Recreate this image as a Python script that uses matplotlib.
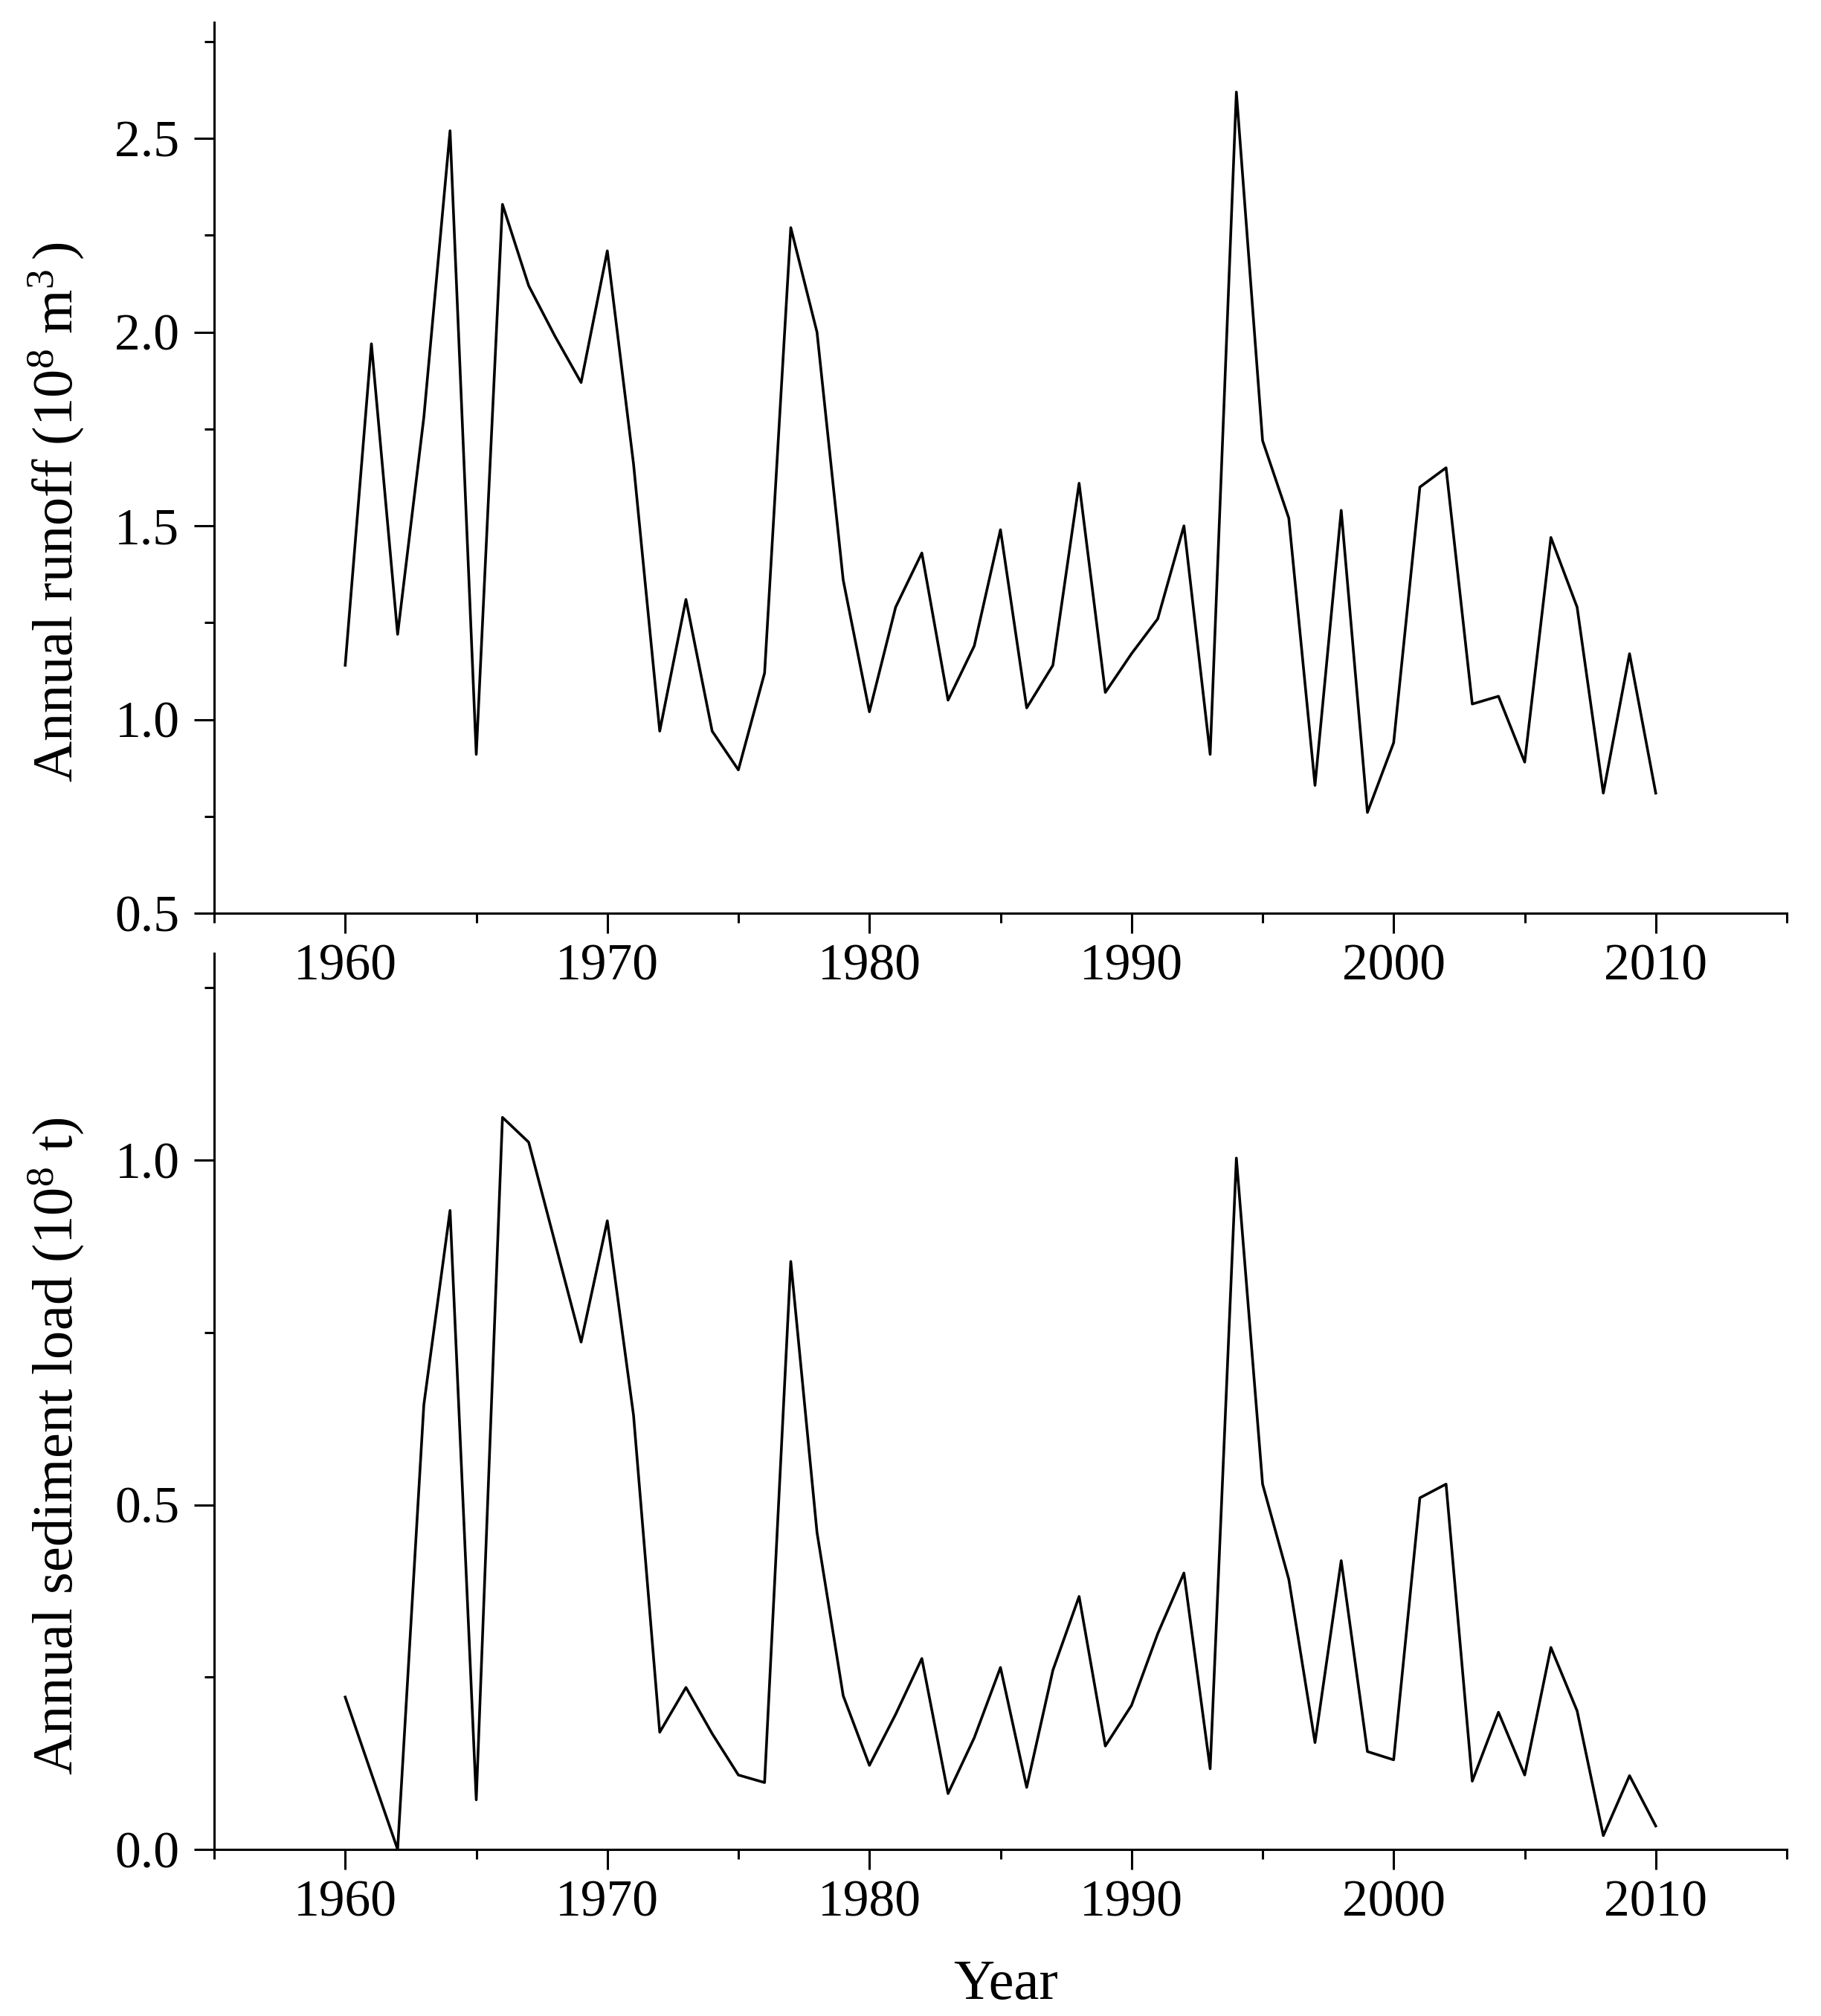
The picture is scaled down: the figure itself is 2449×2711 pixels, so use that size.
import matplotlib
matplotlib.use("Agg")
import matplotlib.pyplot as plt
from matplotlib.ticker import MultipleLocator, FormatStrFormatter

# years 1960-2010
years = list(range(1960, 2011))

# annual runoff (10^8 m^3)
runoff = [1.14, 1.97, 1.22, 1.78, 2.52, 0.91, 2.33, 2.12, 1.99, 1.87,
          2.21, 1.66, 0.97, 1.31, 0.97, 0.87, 1.12, 2.27, 2.00, 1.36,
          1.02, 1.29, 1.43, 1.05, 1.19, 1.49, 1.03, 1.14, 1.61, 1.07,
          1.17, 1.26, 1.50, 0.91, 2.62, 1.72, 1.52, 0.83, 1.54, 0.76,
          0.94, 1.60, 1.65, 1.04, 1.06, 0.89, 1.47, 1.29, 0.81, 1.17,
          0.81]

# annual sediment load (10^8 t)
sediment = [0.221, 0.11, 0.0, 0.645, 0.927, 0.072, 1.062, 1.026, 0.881, 0.736,
            0.912, 0.63, 0.17, 0.235, 0.168, 0.108, 0.097, 0.853, 0.46, 0.223,
            0.122, 0.196, 0.277, 0.081, 0.162, 0.264, 0.090, 0.26, 0.367, 0.15,
            0.209, 0.313, 0.401, 0.117, 1.003, 0.53, 0.392, 0.155, 0.419, 0.142,
            0.13, 0.51, 0.53, 0.099, 0.199, 0.108, 0.293, 0.201, 0.02, 0.107,
            0.034]

runoff_label = r"Annual runoff (10$^{8}$ m$^{3}\,$)"
sediment_label = r"Annual sediment load (10$^{8}$ t)"

plt.rcParams['font.family'] = ['Liberation Serif', 'DejaVu Serif']
plt.rcParams['mathtext.fontset'] = 'custom'
plt.rcParams['mathtext.rm'] = 'Liberation Serif'
plt.rcParams['mathtext.it'] = 'Liberation Serif'
plt.rcParams['mathtext.default'] = 'regular'

W, H = 2449, 2711
fig = plt.figure(figsize=(W / 100, H / 100), dpi=100)

left = 288 / W
width = (2403 - 288) / W
ax1 = fig.add_axes([left, 1 - 1228 / H, width, (1228 - 30) / H])
ax2 = fig.add_axes([left, 1 - 2487 / H, width, (2487 - 1282) / H])
# lower panel must not hide the year labels of the upper one
ax2.patch.set_visible(False)

tick_fs = 50
label_fs = 55


def style_axis(ax, ylim, ylabel):
    ax.set_xlim(1955, 2015)
    ax.set_ylim(*ylim)
    for side in ['top', 'right']:
        ax.spines[side].set_visible(False)
    for side in ['left', 'bottom']:
        ax.spines[side].set_linewidth(2.2)
    ax.xaxis.set_major_locator(MultipleLocator(10))
    ax.xaxis.set_minor_locator(MultipleLocator(5))
    ax.yaxis.set_major_locator(MultipleLocator(0.5))
    ax.yaxis.set_minor_locator(MultipleLocator(0.25))
    ax.yaxis.set_major_formatter(FormatStrFormatter('%.1f'))
    ax.tick_params(which='major', direction='out', length=19.5, width=2.2,
                   labelsize=tick_fs, color='black')
    ax.tick_params(which='minor', direction='out', length=9.5, width=2.2,
                   color='black')
    ax.tick_params(axis='y', which='major', pad=14)
    ax.tick_params(axis='x', which='major', pad=10)
    ax.set_ylabel(ylabel, fontsize=label_fs)
    ax.yaxis.set_label_coords(-0.082, 0.45)


ax1.plot(years, runoff, color='black', linewidth=2.6)
style_axis(ax1, (0.5, 2.8), runoff_label)

ax2.plot(years, sediment, color='black', linewidth=2.6)
style_axis(ax2, (0.0, 1.3), sediment_label)

ax2.set_xlabel("Year", fontsize=label_fs)
ax2.xaxis.set_label_coords(0.5 + 7 / 2115, -(2688 - 2487) / 1205)
ax2.xaxis.label.set_va('baseline')

fig.savefig("out.png", dpi=100, facecolor='white')
